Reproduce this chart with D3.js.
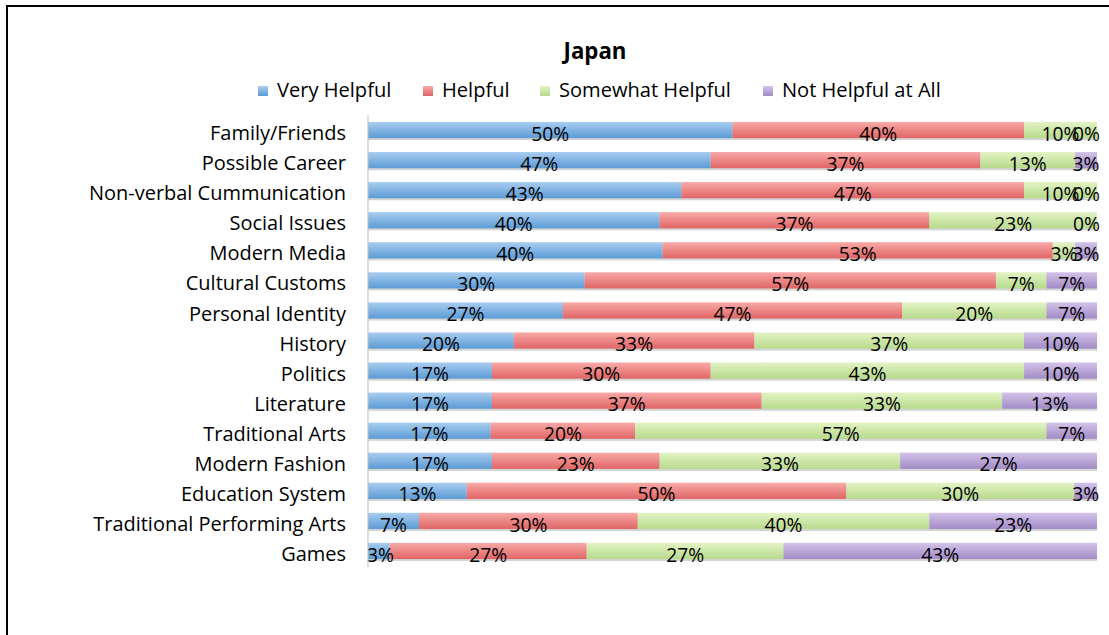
<!DOCTYPE html>
<html>
<head>
<meta charset="utf-8">
<script src="https://cdn.jsdelivr.net/npm/d3@7"></script>
<style>
  body { margin: 0; background: #fff; }
  svg { display: block; font-family: "Open Sans", Lato, sans-serif; }
</style>
</head>
<body>
<script>
// chart values
var categories = ["Family/Friends", "Possible Career", "Non-verbal Cummunication", "Social Issues",
  "Modern Media", "Cultural Customs", "Personal Identity", "History", "Politics", "Literature",
  "Traditional Arts", "Modern Fashion", "Education System", "Traditional Performing Arts", "Games"]
var seriesNames = ["Very Helpful", "Helpful", "Somewhat Helpful", "Not Helpful at All"]
var veryHelpful     = [50, 47, 43, 40, 40, 30, 27, 20, 17, 17, 17, 17, 13, 7, 3]
var helpful         = [40, 37, 47, 37, 53, 57, 47, 33, 30, 37, 20, 23, 50, 30, 27]
var somewhatHelpful = [10, 13, 10, 23, 3, 7, 20, 37, 43, 33, 57, 33, 30, 40, 27]
var notHelpful      = [0, 3, 0, 0, 3, 7, 7, 10, 10, 13, 7, 27, 3, 23, 43]

var W = 1109, H = 635
var colors = [["#a9cdf0", "#5b9bd5"], ["#f8aaa8", "#e06565"], ["#e2f3c4", "#b7da8c"], ["#d3c3e9", "#a28bc6"]]

var rows = categories.map(function (c, i) {
  return { cat: c, s0: veryHelpful[i], s1: helpful[i], s2: somewhatHelpful[i], s3: notHelpful[i] }
})
var keys = ["s0", "s1", "s2", "s3"]
var stacked = d3.stack().keys(keys).offset(d3.stackOffsetExpand)(rows)

var svg = d3.select("body").append("svg").attr("width", W).attr("height", H)

// size a font so a sample string comes out at a given width (no Calibri here)
function fitSize(str, target, weight) {
  var t = svg.append("text").attr("font-size", 20).attr("font-weight", weight || "normal").text(str)
  var w = t.node().getComputedTextLength()
  t.remove()
  return 20 * target / w
}
var catSize = fitSize("Traditional Performing Arts", 253)
var legSize = fitSize("Somewhat Helpful", 172)
var lblSize = fitSize("40%", 38)
var titleSize = fitSize("Japan", 63, "bold")

// frame
svg.append("path").attr("d", "M7,640 V6 H1115")
  .attr("fill", "none").attr("stroke", "#000").attr("stroke-width", 2)

var defs = svg.append("defs")
colors.forEach(function (c, i) {
  var g = defs.append("linearGradient").attr("id", "g" + i)
    .attr("x1", 0).attr("y1", 0).attr("x2", 0).attr("y2", 1)
  g.append("stop").attr("offset", "0%").attr("stop-color", c[0])
  g.append("stop").attr("offset", "100%").attr("stop-color", c[1])
})

var x = d3.scaleLinear().domain([0, 1]).range([368, 1097])
var y = d3.scaleBand().domain(categories).range([115, 566]).paddingInner(0.46).paddingOuter(0.23)

svg.append("text").attr("x", 595).attr("y", 59).attr("text-anchor", "middle")
  .attr("font-size", titleSize).attr("font-weight", "bold").text("Japan")

// legend
var legendX = [258, 423, 540, 763]
var leg = svg.selectAll(".leg").data(seriesNames).enter().append("g")
  .attr("transform", function (d, i) { return "translate(" + legendX[i] + ",86)" })
leg.append("rect").attr("width", 10).attr("height", 10).attr("fill", function (d, i) { return "url(#g" + i + ")" })
leg.append("text").attr("x", 19).attr("y", 11).attr("font-size", legSize).text(function (d) { return d })

// bar shadow
svg.append("g").selectAll("rect").data(categories).enter().append("rect")
  .attr("x", x(0)).attr("y", function (d) { return y(d) + 2 })
  .attr("width", x(1) - x(0)).attr("height", y.bandwidth())
  .attr("fill", "#d4d4d4")

var layer = svg.selectAll(".layer").data(stacked).enter().append("g")
  .attr("fill", function (d, i) { return "url(#g" + i + ")" })
layer.selectAll("rect").data(function (d) { return d }).enter().append("rect")
  .attr("x", function (d) { return x(d[0]) })
  .attr("y", function (d) { return y(d.data.cat) })
  .attr("width", function (d) { return x(d[1]) - x(d[0]) })
  .attr("height", y.bandwidth())

// data labels, kept inside the plot like Excel does
stacked.forEach(function (s) {
  svg.append("g").selectAll("text").data(s).enter().append("text")
    .attr("text-anchor", "middle").attr("font-size", lblSize).attr("fill", "#000")
    .attr("y", function (d) { return y(d.data.cat) + y.bandwidth() + 2.5 })
    .text(function (d) { return d.data[s.key] + "%" })
    .attr("x", function (d) {
      var half = this.getComputedTextLength() / 2
      var cx = (x(d[0]) + x(d[1])) / 2
      return Math.max(x(0) - 1 + half, Math.min(x(1) + 3 - half, cx))
    })
})

// axis
var axis = svg.append("g").attr("transform", "translate(368,0)")
  .call(d3.axisLeft(y).tickSize(0).tickPadding(22))
axis.select(".domain").attr("stroke", "#bfbfbf").attr("d", "M0,115V567")
axis.selectAll("text").attr("font-size", catSize).attr("fill", "#000")
  .attr("font-family", "'Open Sans', Lato, sans-serif").attr("dy", null)
  .attr("y", y.bandwidth() / 2 + 2)
</script>
</body>
</html>
